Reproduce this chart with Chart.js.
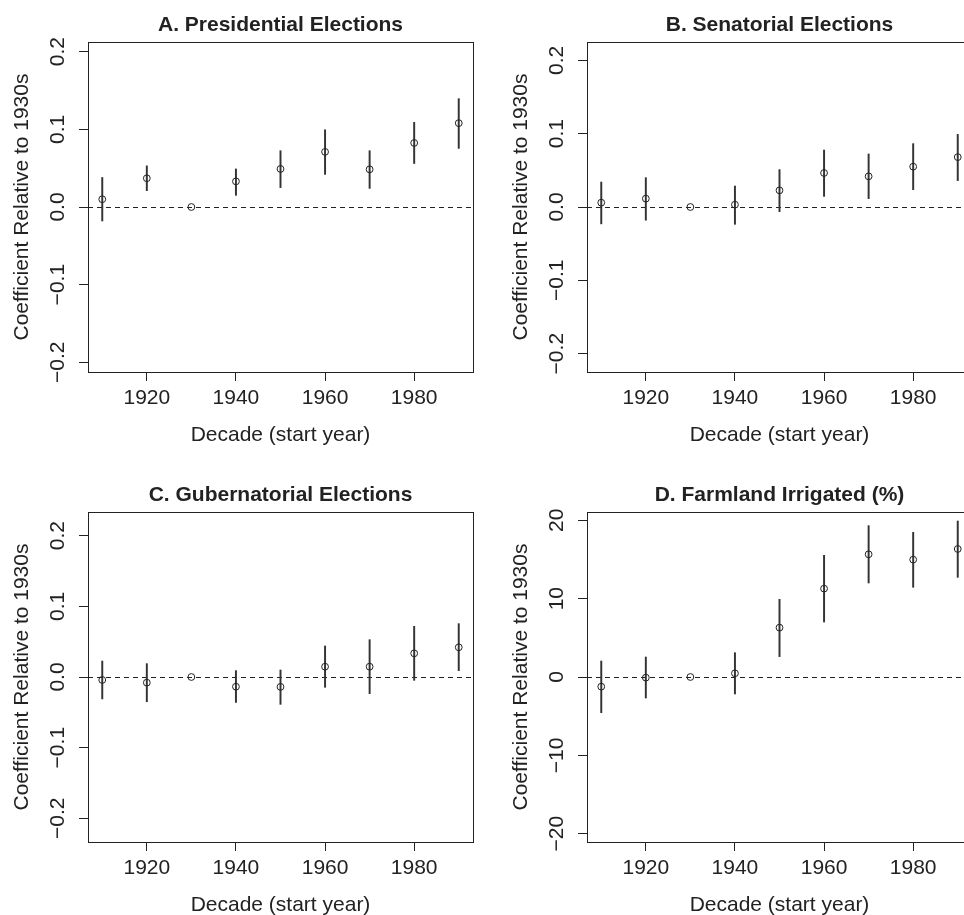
<!DOCTYPE html>
<html>
<head>
<meta charset="utf-8">
<script src="https://cdn.jsdelivr.net/npm/chart.js@4.4.1/dist/chart.umd.min.js"></script>
<style>
  html, body { margin: 0; padding: 0; background: #fff; }
  body { width: 964px; height: 915px; overflow: hidden; position: relative; }
  .panel { position: absolute; width: 499px; height: 470px; }
  .panel canvas { width: 499px; height: 470px; display: block; }
</style>
</head>
<body>
<div class="panel" style="left:0;top:0"><canvas id="chartA" width="499" height="470"></canvas></div>
<div class="panel" style="left:499px;top:0"><canvas id="chartB" width="499" height="470"></canvas></div>
<div class="panel" style="left:0;top:470px"><canvas id="chartC" width="499" height="470"></canvas></div>
<div class="panel" style="left:499px;top:470px"><canvas id="chartD" width="499" height="470"></canvas></div>
<script>
// data
const decades = [1910, 1920, 1930, 1940, 1950, 1960, 1970, 1980, 1990];
const xTicks = [1920, 1940, 1960, 1980];
const xRange = [1906.8, 1993.2];

const presEst = [0.010, 0.037, 0, 0.033, 0.049, 0.071, 0.0485, 0.0825, 0.108];
const presLo  = [-0.018, 0.021, null, 0.015, 0.025, 0.042, 0.024, 0.056, 0.0755];
const presHi  = [0.038, 0.053, null, 0.049, 0.0725, 0.0995, 0.0725, 0.109, 0.1395];

const senEst = [0.0059, 0.0114, 0, 0.0032, 0.0227, 0.0464, 0.0418, 0.055, 0.068];
const senLo  = [-0.023, -0.018, null, -0.0236, -0.0064, 0.0145, 0.0114, 0.0236, 0.036];
const senHi  = [0.034, 0.040, null, 0.0286, 0.051, 0.0777, 0.0723, 0.0864, 0.099];

const govEst = [-0.0042, -0.008, 0, -0.0137, -0.014, 0.0146, 0.0146, 0.0335, 0.042];
const govLo  = [-0.031, -0.035, null, -0.036, -0.0387, -0.0146, -0.0236, -0.0047, 0.009];
const govHi  = [0.0226, 0.0189, null, 0.009, 0.0099, 0.0439, 0.0528, 0.0717, 0.0755];

const irrEst = [-1.23, -0.085, 0, 0.47, 6.3, 11.28, 15.66, 14.98, 16.34];
const irrLo  = [-4.55, -2.68, null, -2.17, 2.6, 7.02, 12.0, 11.45, 12.72];
const irrHi  = [2.04, 2.55, null, 3.1, 9.91, 15.53, 19.32, 18.47, 19.91];

const fracTicks = [-0.2, -0.1, 0, 0.1, 0.2];
const fracTickLabels = ['\u22120.2', '\u22120.1', '0.0', '0.1', '0.2'];
const pctTicks = [-20, -10, 0, 10, 20];
const pctTickLabels = ['\u221220', '\u221210', '0', '10', '20'];

const titles = ['A. Presidential Elections', 'B. Senatorial Elections',
                'C. Gubernatorial Elections', 'D. Farmland Irrigated (%)'];
const yRanges = [[-0.2125, 0.2125], [-0.225, 0.225], [-0.2335, 0.2335], [-21.06, 21.06]];

const xLabel = 'Decade (start year)';
const yLabel = 'Coefficient Relative to 1930s';

const FONT = "'Liberation Sans', Arial, Helvetica, sans-serif";
const INK = '#222';

Chart.defaults.font.family = FONT;
Chart.defaults.color = INK;

// box, title, dashed zero line and rotated y labels, R style
const rPanel = {
    id: 'rPanel',
    beforeDatasetsDraw(chart, args, opts) {
        const a = chart.chartArea;
        const y0 = Math.round(chart.scales.y.getPixelForValue(0)) + 0.5;
        const ctx = chart.ctx;
        ctx.save();
        ctx.strokeStyle = INK;
        ctx.lineWidth = 1;
        ctx.setLineDash([5, 4]);
        ctx.beginPath();
        ctx.moveTo(a.left, y0);
        ctx.lineTo(a.right, y0);
        ctx.stroke();
        ctx.restore();
    },
    afterDraw(chart, args, opts) {
        const a = chart.chartArea;
        const ctx = chart.ctx;
        const ys = chart.scales.y;
        ctx.save();
        ctx.strokeStyle = INK;
        ctx.lineWidth = 1;
        ctx.strokeRect(a.left + 0.5, a.top + 0.5, a.right - a.left, a.bottom - a.top);

        ctx.fillStyle = INK;
        ctx.textAlign = 'center';
        ctx.textBaseline = 'middle';
        ctx.font = 'bold 21px ' + FONT;
        ctx.fillText(opts.title, (a.left + a.right) / 2, 25);

        ctx.font = '21px ' + FONT;
        ys.ticks.forEach(t => {
            const i = opts.tickVals.indexOf(t.value);
            if (i < 0) return;
            ctx.save();
            ctx.translate(a.left - 29.5, ys.getPixelForValue(t.value));
            ctx.rotate(-Math.PI / 2);
            ctx.fillText(opts.tickLabels[i], 0, 0);
            ctx.restore();
        });
        ctx.restore();
    }
};

function buildPanel(id, title, est, lo, hi, yRange, tickVals, tickLabels) {
    const points = decades.map((d, i) => ({ x: d, y: est[i] }));
    const bars = decades.map((d, i) => ({ x: d, y: lo[i] === null ? null : [lo[i], hi[i]] }));

    return new Chart(document.getElementById(id), {
        type: 'scatter',
        data: {
            datasets: [
                {
                    type: 'scatter',
                    data: points,
                    pointStyle: 'circle',
                    pointRadius: 3.4,
                    pointHoverRadius: 3.4,
                    borderWidth: 1,
                    borderColor: INK,
                    backgroundColor: 'rgba(0,0,0,0)',
                    order: 0
                },
                {
                    type: 'bar',
                    data: bars,
                    backgroundColor: '#333',
                    borderWidth: 0,
                    barThickness: 1.3,
                    order: 1
                }
            ]
        },
        options: {
            responsive: false,
            animation: false,
            devicePixelRatio: 1,
            layout: { padding: { top: 42, right: 26, left: 0, bottom: 0 } },
            plugins: {
                legend: { display: false },
                tooltip: { enabled: false },
                rPanel: { title: title, tickVals: tickVals, tickLabels: tickLabels }
            },
            scales: {
                x: {
                    type: 'linear',
                    min: xRange[0],
                    max: xRange[1],
                    offset: false,
                    afterBuildTicks: s => { s.ticks = xTicks.map(v => ({ value: v })); },
                    afterFit: s => { s.height = 98; },
                    grid: { drawOnChartArea: false, drawTicks: true, tickLength: 9, color: INK, offset: false },
                    border: { display: false },
                    ticks: { font: { size: 21 }, color: INK, padding: 5, maxRotation: 0, callback: v => String(v) },
                    title: { display: true, text: xLabel, font: { size: 21 }, color: INK, padding: { top: 0, bottom: 22.4 } }
                },
                y: {
                    type: 'linear',
                    min: yRange[0],
                    max: yRange[1],
                    afterBuildTicks: s => { s.ticks = tickVals.map(v => ({ value: v })); },
                    afterFit: s => { s.width = 88; },
                    grid: { drawOnChartArea: false, drawTicks: true, tickLength: 9, color: INK },
                    border: { display: false },
                    ticks: { display: false },
                    title: { display: true, text: yLabel, font: { size: 21 }, color: INK, padding: { top: 9.4, bottom: 0 } }
                }
            }
        },
        plugins: [rPanel]
    });
}

buildPanel('chartA', titles[0], presEst, presLo, presHi, yRanges[0], fracTicks, fracTickLabels);
buildPanel('chartB', titles[1], senEst, senLo, senHi, yRanges[1], fracTicks, fracTickLabels);
buildPanel('chartC', titles[2], govEst, govLo, govHi, yRanges[2], fracTicks, fracTickLabels);
buildPanel('chartD', titles[3], irrEst, irrLo, irrHi, yRanges[3], pctTicks, pctTickLabels);
</script>
</body>
</html>
